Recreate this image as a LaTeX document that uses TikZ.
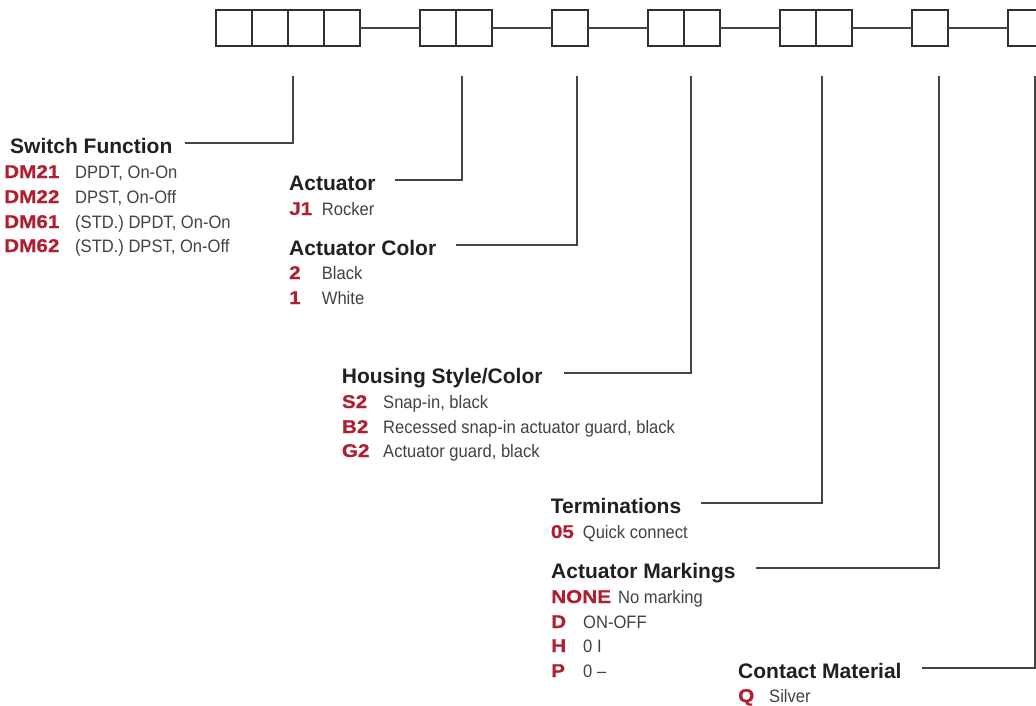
\documentclass[tikz,border=0pt]{standalone}
\usepackage{fontspec}
\usetikzlibrary{positioning}
\setmainfont{Liberation Sans}
\newfontfamily\descfont[FakeStretch=0.92]{Liberation Sans}
\newfontfamily\codefont[FakeStretch=1.12,FakeBold=0.6]{Liberation Sans Bold}

\definecolor{codered}{RGB}{176,30,48}
\definecolor{headgray}{RGB}{35,31,32}
\definecolor{descgray}{RGB}{66,66,66}
\definecolor{linegray}{RGB}{68,68,68}

\newcommand{\cd}[1]{{\color{codered}\codefont\fontsize{18.5}{22}\selectfont #1}}

\tikzset{
    cell/.style={draw=linegray!70!black, line width=1.3pt, minimum size=36pt, inner sep=0pt, outer sep=0pt},
    link/.style={draw=linegray, line width=1.1pt},
    heading/.style={anchor=base west, inner sep=0pt, text height=20pt, text depth=0pt, text=headgray, font=\fontsize{21}{25}\selectfont\bfseries},
    item/.style={anchor=base west, inner sep=0pt, text=descgray, font=\descfont\fontsize{18}{22}\selectfont}
}

\begin{document}
\begin{tikzpicture}[x=1pt, y=-1pt]
        % Define Variables
        \def\row{28}
        \def\tap{76}
        \useasboundingbox (0,0) rectangle (1036,705);
        \clip (0,0) rectangle (1036,705);

        % Code Boxes
        \node[cell] (b1) at (234,\row) {};
        \node[cell, right=0pt of b1] (b2) {};
        \node[cell, right=0pt of b2] (b3) {};
        \node[cell, right=0pt of b3] (b4) {};
        \node[cell] (b5) at (438,\row) {};
        \node[cell, right=0pt of b5] (b6) {};
        \node[cell] (b7) at (570,\row) {};
        \node[cell] (b8) at (666,\row) {};
        \node[cell, right=0pt of b8] (b9) {};
        \node[cell] (b10) at (798,\row) {};
        \node[cell, right=0pt of b10] (b11) {};
        \node[cell] (b12) at (930,\row) {};
        \node[cell] (b13) at (1026,\row) {};
        \draw[link] (b4) -- (b5);
        \draw[link] (b6) -- (b7);
        \draw[link] (b7) -- (b8);
        \draw[link] (b9) -- (b10);
        \draw[link] (b11) -- (b12);
        \draw[link] (b12) -- (b13);

        % Leader Tops
        \coordinate (t1) at (293,\tap);
        \coordinate (t2) at (462,\tap);
        \coordinate (t3) at (577,\tap);
        \coordinate (t4) at (691,\tap);
        \coordinate (t5) at (822,\tap);
        \coordinate (t6) at (939,\tap);
        \coordinate (t7) at (1035,\tap);

        % Switch Function
        \node[heading] (h-sw) at (10,153) {Switch Function};
        \node[item] (sw-1) at (4,178) {\makebox[71pt][l]{\cd{DM21}}DPDT, On-On};
        \node[item] (sw-2) at (4,203) {\makebox[71pt][l]{\cd{DM22}}DPST, On-Off};
        \node[item] (sw-3) at (4,228) {\makebox[71pt][l]{\cd{DM61}}(STD.) DPDT, On-On};
        \node[item] (sw-4) at (4,252) {\makebox[71pt][l]{\cd{DM62}}(STD.) DPST, On-Off};
        \draw[link] ([xshift=12pt]h-sw.east) -| (t1);

        % Actuator
        \node[heading] (h-act) at (289,190) {Actuator};
        \node[item] (act-1) at (289,215) {\makebox[32.7pt][l]{\cd{J1}}Rocker};
        \draw[link] ([xshift=19pt]h-act.east) -| (t2);

        % Actuator Color
        \node[heading] (h-col) at (289,255) {Actuator Color};
        \node[item] (col-1) at (289,279) {\makebox[32.7pt][l]{\cd{2}}Black};
        \node[item] (col-2) at (289,304) {\makebox[32.7pt][l]{\cd{1}}White};
        \draw[link] ([xshift=20pt]h-col.east) -| (t3);

        % Housing Style/Color
        \node[heading] (h-hou) at (341.7,383) {Housing Style/Color};
        \node[item] (hou-1) at (341.7,408) {\makebox[41.3pt][l]{\cd{S2}}Snap-in, black};
        \node[item] (hou-2) at (341.7,433) {\makebox[41.3pt][l]{\cd{B2}}Recessed snap-in actuator guard, black};
        \node[item] (hou-3) at (341.7,457) {\makebox[41.3pt][l]{\cd{G2}}Actuator guard, black};
        \draw[link] ([xshift=21pt]h-hou.east) -| (t4);

        % Terminations
        \node[heading] (h-ter) at (550.7,513) {Terminations};
        \node[item] (ter-1) at (550.7,538) {\makebox[32pt][l]{\cd{05}}Quick connect};
        \draw[link] ([xshift=20pt]h-ter.east) -| (t5);

        % Actuator Markings
        \node[heading] (h-mrk) at (551,578) {Actuator Markings};
        \node[item] (mrk-1) at (551,603) {\makebox[67pt][l]{\cd{NONE}}No marking};
        \node[item] (mrk-2) at (551,628) {\makebox[32pt][l]{\cd{D}}ON-OFF};
        \node[item] (mrk-3) at (551,652) {\makebox[32pt][l]{\cd{H}}0 I};
        \node[item] (mrk-4) at (551,677) {\makebox[32pt][l]{\cd{P}}0 \textendash};
        \draw[link] ([xshift=20pt]h-mrk.east) -| (t6);

        % Contact Material
        \node[heading] (h-con) at (738,678) {Contact Material};
        \node[item] (con-1) at (738,702) {\makebox[31pt][l]{\cd{Q}}Silver};
        \draw[link] ([xshift=20pt]h-con.east) -| (t7);

    \end{tikzpicture}
\end{document}
